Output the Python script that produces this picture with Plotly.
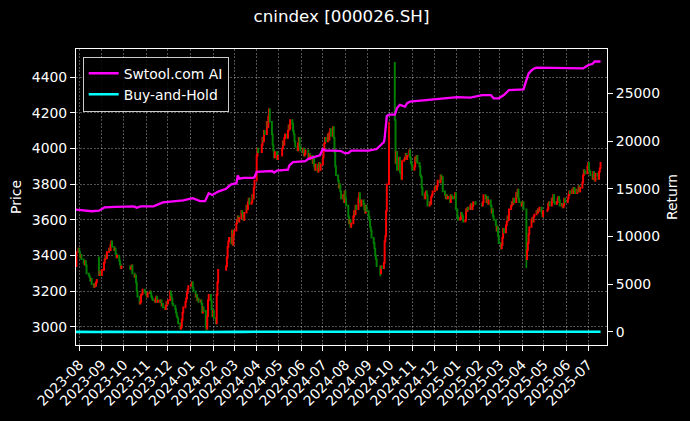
import pandas as pd
import plotly.graph_objects as go

# ---------------- data ----------------
# daily closes of the index, one list per month (trading days only)
c2307 = [3340, 3420, 3440]
c2308 = [3420, 3390, 3405, 3380, 3360, 3350, 3370, 3345, 3300, 3290, 3280, 3260, 3270, 3240, 3225, 3240, 3230, 3250, 3265, 3290, 3310, 3300, 3290]
c2309 = [3320, 3360, 3380, 3400, 3385, 3420, 3440, 3430, 3460, 3480, 3450, 3430, 3440, 3410, 3390, 3400, 3370, 3350, 3330, 3340]
c2310 = [3340, 3325, 3330, 3345, 3300, 3280, 3290, 3250, 3200, 3170, 3130, 3140, 3180, 3185, 3210, 3200, 3190]
c2311 = [3180, 3170, 3190, 3200, 3190, 3170, 3160, 3150, 3140, 3160, 3170, 3140, 3150, 3140, 3150, 3120, 3130, 3110, 3100, 3120, 3140, 3130]
c2312 = [3150, 3200, 3180, 3160, 3130, 3120, 3100, 3080, 3060, 3050, 3020, 2990, 3000, 3040, 3080, 3110, 3140, 3160, 3190, 3210, 3230]
c2401 = [3240, 3250, 3220, 3200, 3170, 3180, 3150, 3160, 3140, 3150, 3130, 3080, 3110, 3090, 3000, 2990, 3060, 3150, 3180, 3150, 3100, 3060]
c2402 = [3090, 3050, 3020, 3180, 3250, 3320, 3340, 3390, 3450, 3480, 3500, 3470, 3540, 3460, 3520]
c2403 = [3540, 3580, 3600, 3620, 3590, 3610, 3650, 3640, 3620, 3600, 3640, 3680, 3660, 3700, 3720, 3690, 3700, 3740, 3720, 3780, 3820]
c2404 = [3960, 4000, 3980, 4020, 4060, 4040, 4100, 4080, 4150, 4120, 4180, 4220, 4150, 4080, 4020, 3990, 3950, 3980, 3940, 3960]
c2405 = [4000, 4040, 4020, 4060, 4080, 4060, 4100, 4130, 4110, 4160, 4140, 4100, 4080, 4040, 4010, 3990, 4030, 4060, 4010, 3990]
c2406 = [3980, 4000, 3960, 3970, 3990, 3950, 3970, 3940, 3960, 3920, 3950, 3900, 3880, 3910, 3870, 3890, 3920, 3880, 3910]
c2407 = [3950, 3990, 4030, 4060, 4040, 4080, 4050, 4090, 4110, 4070, 4120, 4060, 3980, 3900, 3850, 3820, 3780, 3800, 3760, 3720, 3740, 3700, 3760]
c2408 = [3720, 3680, 3620, 3580, 3600, 3560, 3580, 3620, 3650, 3630, 3680, 3660, 3720, 3750, 3700, 3680, 3710, 3690, 3660, 3640, 3680, 3650]
c2409 = [3620, 3600, 3560, 3540, 3500, 3470, 3440, 3400, 3380, 3340, 3300, 3340, 3330, 3360, 3480, 3510, 3650, 3800, 4110]
c2410 = [4160, 3920, 3980, 3880, 3950, 3870, 3860, 3830, 3930, 3940, 3950, 3970, 3940, 3960, 3990, 3950, 3920, 3910]
c2411 = [3880, 3900, 3950, 3930, 3960, 3920, 3900, 3850, 3840, 3780, 3740, 3720, 3750, 3760, 3740, 3680, 3700, 3690, 3730, 3740, 3760]
c2412 = [3780, 3790, 3770, 3790, 3820, 3810, 3850, 3830, 3840, 3760, 3740, 3720, 3740, 3720, 3730, 3700, 3740, 3720, 3730, 3720, 3750, 3660]
c2501 = [3620, 3600, 3610, 3640, 3630, 3620, 3590, 3600, 3660, 3650, 3670, 3660, 3680, 3690, 3660, 3680, 3700, 3690]
c2502 = [3680, 3700, 3740, 3720, 3700, 3730, 3690, 3710, 3680, 3640, 3660, 3620, 3600, 3570, 3540, 3560, 3510, 3470]
c2503 = [3440, 3460, 3500, 3550, 3530, 3570, 3590, 3620, 3600, 3660, 3680, 3700, 3690, 3720, 3700, 3750, 3730, 3770, 3720, 3700, 3680]
c2504 = [3690, 3700, 3660, 3380, 3430, 3470, 3520, 3560, 3600, 3610, 3590, 3620, 3630, 3650, 3640, 3660, 3650, 3670, 3640, 3620, 3650]
c2505 = [3660, 3690, 3700, 3680, 3720, 3710, 3740, 3700, 3690, 3700, 3720, 3730, 3710, 3680, 3690, 3670, 3680, 3720, 3700]
c2506 = [3720, 3740, 3760, 3750, 3770, 3750, 3780, 3770, 3750, 3770, 3760, 3790, 3760, 3780, 3810, 3850, 3880, 3870, 3860, 3900]
c2507 = [3920, 3880, 3870, 3850, 3830, 3870, 3840, 3820, 3860, 3850, 3830, 3870, 3890, 3920]

first_open = 3380
# days whose open / wick differ visibly from the previous close
open_override = {"2023-08-28": 3390, "2024-10-08": 4480}
high_override = {"2023-08-28": 3395, "2024-10-08": 4485, "2024-09-30": 4150}
low_override = {"2025-04-07": 3330, "2024-09-18": 3285, "2024-01-23": 2980}

# exchange holidays (no candles)
holidays = ["2023-09-29", "2023-10-02", "2023-10-03", "2023-10-04", "2023-10-05", "2023-10-06",
            "2024-01-01", "2024-02-09", "2024-02-12", "2024-02-13", "2024-02-14", "2024-02-15", "2024-02-16",
            "2024-04-04", "2024-04-05", "2024-05-01", "2024-05-02", "2024-05-03", "2024-06-10",
            "2024-09-16", "2024-09-17", "2024-10-01", "2024-10-02", "2024-10-03", "2024-10-04", "2024-10-07",
            "2025-01-01", "2025-01-28", "2025-01-29", "2025-01-30", "2025-01-31", "2025-02-03", "2025-02-04",
            "2025-04-04", "2025-05-01", "2025-05-02", "2025-05-05", "2025-06-02"]

# Swtool.com AI return curve (right axis)
ai_dates = ["2023-07-27", "2023-08-10", "2023-08-18", "2023-08-28", "2023-09-05", "2023-09-20", "2023-10-15",
            "2023-10-19", "2023-10-24", "2023-11-11", "2023-11-24", "2023-12-22", "2024-01-04", "2024-01-14",
            "2024-01-21", "2024-01-26", "2024-01-31", "2024-02-04", "2024-02-08", "2024-02-19", "2024-02-26",
            "2024-03-04", "2024-03-06", "2024-03-08", "2024-03-14", "2024-03-27", "2024-03-29", "2024-04-01",
            "2024-04-22", "2024-04-25", "2024-04-29", "2024-05-14", "2024-05-16", "2024-05-21", "2024-05-28",
            "2024-06-07", "2024-06-11", "2024-06-20", "2024-06-27", "2024-07-01", "2024-07-05", "2024-07-17",
            "2024-07-26", "2024-07-31", "2024-08-05", "2024-08-09", "2024-09-02", "2024-09-13", "2024-09-20",
            "2024-09-23", "2024-09-24", "2024-09-25", "2024-09-26", "2024-09-27", "2024-09-30", "2024-10-08",
            "2024-10-11", "2024-10-15", "2024-10-22", "2024-10-25", "2024-10-29", "2024-11-26", "2025-01-02",
            "2025-01-20", "2025-01-27", "2025-02-05", "2025-02-17", "2025-02-21", "2025-02-28", "2025-03-07",
            "2025-03-14", "2025-03-20", "2025-04-03", "2025-04-07", "2025-04-10", "2025-04-14", "2025-04-17",
            "2025-04-21", "2025-06-24", "2025-06-30", "2025-07-07", "2025-07-10", "2025-07-18"]
ai_values = [12810, 12700, 12640, 12700, 13050, 13100, 13150,
             13000, 13150, 13150, 13560, 13770, 14010, 13700,
             13700, 14520, 14350, 14520, 14700, 15000, 15450,
             15550, 16400, 16050, 16140, 16140, 16200, 16760,
             16860, 16700, 16900, 17000, 17450, 17780, 17800,
             17900, 18130, 18300, 18500, 19160, 18990, 18990,
             18950, 18720, 18720, 18990, 18990, 19160, 19670,
             19900, 20300, 21000, 22000, 22600, 22760, 22760,
             23450, 23790, 23600, 23960, 24130, 24300, 24600,
             24540, 24640, 24810, 24810, 24470, 24470, 24810,
             25340, 25380, 25400, 26370, 27060, 27400, 27570,
             27680, 27600, 27910, 28090, 28330, 28330]

month_ticks = ["2023-08", "2023-09", "2023-10", "2023-11", "2023-12", "2024-01", "2024-02", "2024-03",
               "2024-04", "2024-05", "2024-06", "2024-07", "2024-08", "2024-09", "2024-10", "2024-11",
               "2024-12", "2025-01", "2025-02", "2025-03", "2025-04", "2025-05", "2025-06", "2025-07"]
price_ticks = [3000, 3200, 3400, 3600, 3800, 4000, 4200, 4400]
return_ticks = [0, 5000, 10000, 15000, 20000, 25000]

# ---------------- build series ----------------
monthly = [("2023-07", c2307), ("2023-08", c2308), ("2023-09", c2309), ("2023-10", c2310),
           ("2023-11", c2311), ("2023-12", c2312), ("2024-01", c2401), ("2024-02", c2402),
           ("2024-03", c2403), ("2024-04", c2404), ("2024-05", c2405), ("2024-06", c2406),
           ("2024-07", c2407), ("2024-08", c2408), ("2024-09", c2409), ("2024-10", c2410),
           ("2024-11", c2411), ("2024-12", c2412), ("2025-01", c2501), ("2025-02", c2502),
           ("2025-03", c2503), ("2025-04", c2504), ("2025-05", c2505), ("2025-06", c2506),
           ("2025-07", c2507)]

days = pd.bdate_range("2023-07-27", "2025-07-18")
days = days[~days.isin(pd.to_datetime(holidays))]
dates, closes = [], []
for ym, vals in monthly:
    md = [d for d in days if d.strftime("%Y-%m") == ym]
    n = min(len(md), len(vals))
    dates += [d.strftime("%Y-%m-%d") for d in md[:n]]
    closes += vals[:n]

opens = [first_open] + closes[:-1]
opens = [open_override.get(d, o) for d, o in zip(dates, opens)]
highs = [high_override.get(d, max(o, c)) for d, o, c in zip(dates, opens, closes)]
lows = [low_override.get(d, min(o, c)) for d, o, c in zip(dates, opens, closes)]
bh = [(c / closes[0] - 1) * 100 for c in closes]

# ---------------- figure ----------------
FONT = "DejaVu Sans"
GRID = "rgba(255,255,255,0.32)"
GDASH = "2px,1.5px"

fig = go.Figure()
fig.add_trace(go.Candlestick(
    x=dates, open=opens, high=highs, low=lows, close=closes,
    increasing=dict(line=dict(color="#ff0000", width=1.6), fillcolor="#ff0000"),
    decreasing=dict(line=dict(color="#008000", width=1.6), fillcolor="#008000"),
    whiskerwidth=0, showlegend=False, yaxis="y", hoverinfo="skip"))
fig.add_trace(go.Scatter(x=ai_dates, y=ai_values, mode="lines", name="Swtool.com AI",
                         line=dict(color="#ff00ff", width=2.3), yaxis="y2"))
fig.add_trace(go.Scatter(x=dates, y=bh, mode="lines", name="Buy-and-Hold",
                         line=dict(color="#00ffff", width=2.6), yaxis="y2"))

fig.update_layout(
    width=690, height=421, autosize=False,
    paper_bgcolor="black", plot_bgcolor="black",
    font=dict(family=FONT, color="white", size=13.9),
    margin=dict(l=76, r=83, t=49, b=71, pad=0),
    title=dict(text="cnindex [000026.SH]", x=0.5, xref="paper", xanchor="center",
               y=1 - 16.5 / 421, yref="container", yanchor="middle",
               font=dict(family=FONT, size=16.7, color="white")),
    xaxis=dict(type="date", range=["2023-07-27 11:00", "2025-07-26 21:00"],
               tickvals=[m + "-01" for m in month_ticks], ticktext=month_ticks,
               tickangle=-45, ticks="outside", ticklen=5, tickwidth=1.1, tickcolor="white",
               tickfont=dict(size=13.9, color="white"),
               showline=True, linecolor="white", linewidth=1.1, mirror=True,
               showgrid=True, gridcolor=GRID, gridwidth=0.6, griddash=GDASH,
               zeroline=False, rangeslider=dict(visible=False)),
    yaxis=dict(range=[2899, 4558], tickvals=price_ticks, ticks="outside", ticklen=5,
               tickwidth=1.1, tickcolor="white", tickfont=dict(size=13.9, color="white"),
               showline=True, linecolor="white", linewidth=1.1, mirror=True,
               showgrid=True, gridcolor=GRID, gridwidth=0.6, griddash=GDASH, zeroline=False,
               title=dict(text="Price", standoff=6, font=dict(size=13.9, color="white"))),
    yaxis2=dict(overlaying="y", side="right", range=[-1370, 29638], tickvals=return_ticks,
                ticktext=[str(v) for v in return_ticks],
                ticks="outside", ticklen=5, tickwidth=1.1, tickcolor="white",
                tickfont=dict(size=13.9, color="white"),
                showline=True, linecolor="white", linewidth=1.1, showgrid=False, zeroline=False,
                title=dict(text="Return", standoff=8, font=dict(size=13.9, color="white"))),
    legend=dict(x=0.0126, y=0.974, xanchor="left", yanchor="top",
                bgcolor="rgba(0,0,0,0.85)", bordercolor="#cccccc", borderwidth=1,
                font=dict(family=FONT, size=13.9, color="white"), tracegroupgap=0),
    showlegend=True,
)

fig.write_html("out.html", config={"displayModeBar": False},
               post_script="document.body.style.margin='0';document.body.style.overflow='hidden';")
